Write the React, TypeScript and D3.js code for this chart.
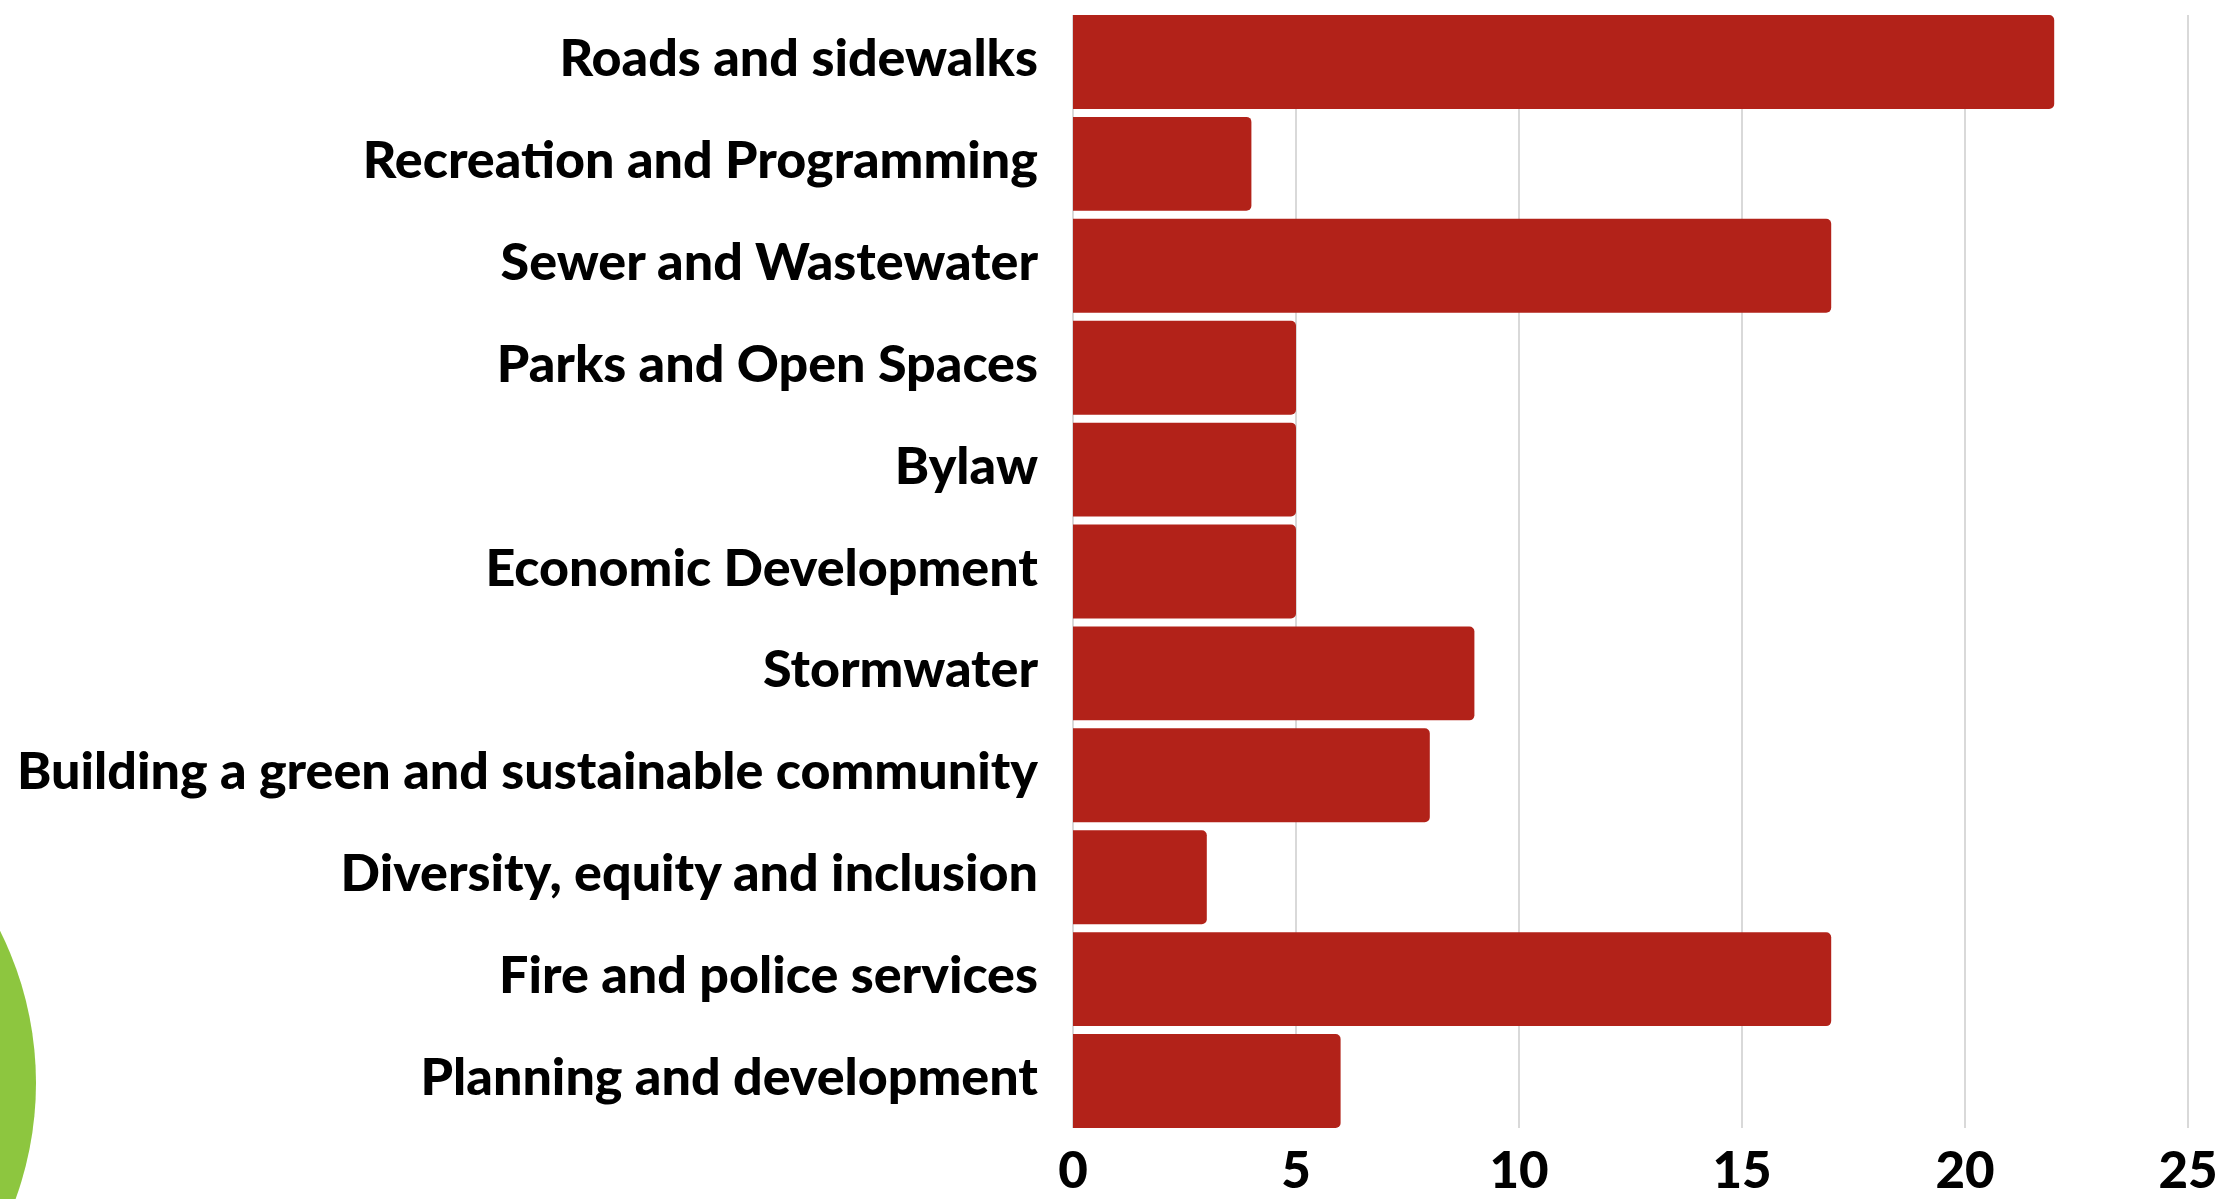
import React from "react";
import * as d3 from "d3";

const categories = [
  "Roads and sidewalks",
  "Recreation and Programming",
  "Sewer and Wastewater",
  "Parks and Open Spaces",
  "Bylaw",
  "Economic Development",
  "Stormwater",
  "Building a green and sustainable community",
  "Diversity, equity and inclusion",
  "Fire and police services",
  "Planning and development",
];
const values = [22, 4, 17, 5, 5, 5, 9, 8, 3, 17, 6];
const ticks = [0, 5, 10, 15, 20, 25];

const W = 2239;
const H = 1199;
const M = { left: 1073, right: 51, top: 15, bottom: 71 };
const FONT = "Lato, 'Open Sans', 'DejaVu Sans', sans-serif";

function barPath(x0: number, x1: number, y0: number, h: number, r: number) {
  const rr = Math.min(r, (x1 - x0) / 2, h / 2);
  return `M${x0},${y0}H${x1 - rr}A${rr},${rr} 0 0 1 ${x1},${y0 + rr}V${y0 + h - rr}A${rr},${rr} 0 0 1 ${x1 - rr},${y0 + h}H${x0}Z`;
}

export default function App() {
  const x = d3.scaleLinear().domain([0, 25]).range([M.left, W - M.right]);
  const y = d3
    .scaleBand<string>()
    .domain(categories)
    .range([M.top, H - M.bottom])
    .paddingInner(8 / 102)
    .paddingOuter(0);
  const bh = y.bandwidth();

  return (
    <svg
      width={W}
      height={H}
      style={{ position: "absolute", left: 0, top: 0, background: "#fff" }}
    >
      <circle cx={-304} cy={1083} r={340} fill="#8dc63f" />
      {ticks.map((t) => (
        <line
          key={"g" + t}
          x1={x(t)}
          x2={x(t)}
          y1={M.top}
          y2={H - M.bottom}
          stroke="#cccccc"
          strokeWidth={1.5}
        />
      ))}
      {categories.map((c, i) => (
        <path
          key={"b" + c}
          d={barPath(x(0), x(values[i]), y(c)!, bh, 5)}
          fill="#b22219"
        />
      ))}
      {categories.map((c) => (
        <text
          key={"l" + c}
          x={1038}
          y={y(c)! + bh / 2 + 14}
          textAnchor="end"
          fontFamily={FONT}
          fontWeight={900}
          fontSize={52}
          fill="#000"
        >
          {c}
        </text>
      ))}
      {ticks.map((t) => (
        <text
          key={"t" + t}
          x={x(t)}
          y={1188}
          textAnchor="middle"
          fontFamily={FONT}
          fontWeight={900}
          fontSize={51}
          fill="#000"
        >
          {t}
        </text>
      ))}
    </svg>
  );
}
